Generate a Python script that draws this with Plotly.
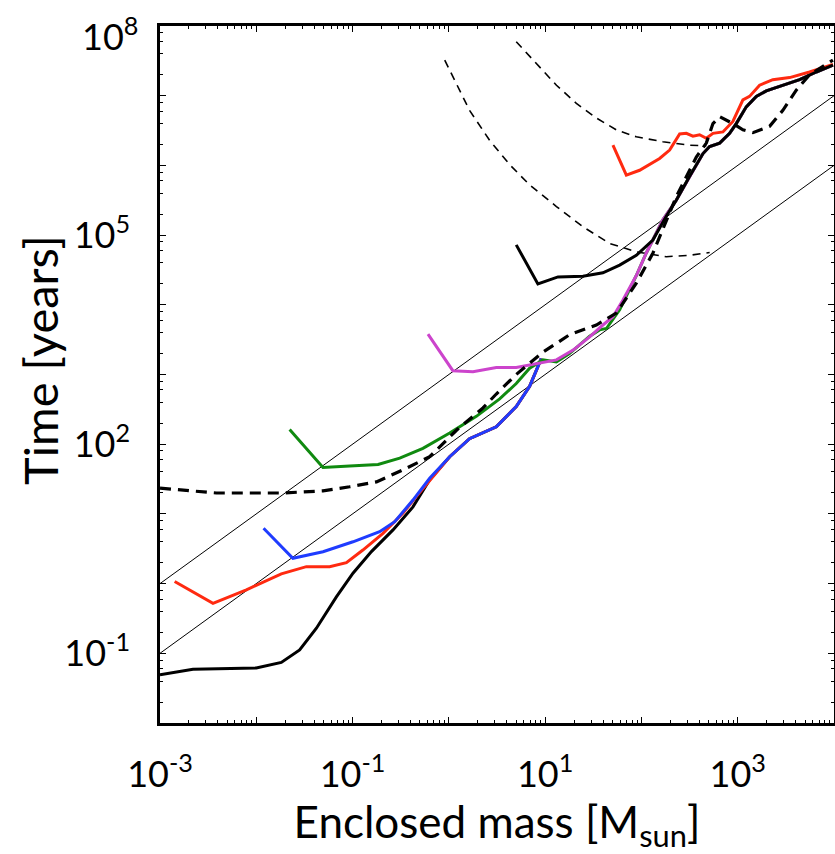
import plotly.graph_objects as go

# ---------------- data ----------------
# thin reference lines t = 1e3 M and t = 1e2 M (end points)
line_hi_m = [1e-3, 1e4]
line_hi_t = [1.0, 1e7]
line_lo_m = [1e-3, 1e4]
line_lo_t = [0.1, 1e6]

# shared high-mass path of the late snapshots
bundle_m = [13.1, 19.5, 29.0, 39.8, 50.6, 64.3, 88.5, 112, 167, 230, 316, 436, 511, 649,
            824, 966, 1227, 1560, 1982, 2944, 4395, 6546, 9750]
bundle_t = [1622, 2239, 3467, 5129, 6761, 11750, 26300, 54950, 1.66e5, 3.162e5, 6.918e5,
            1.479e6, 1.862e6, 2.089e6, 2.884e6, 3.981e6, 6.918e6, 9.772e6, 1.175e7,
            1.413e7, 1.698e7, 2.188e7, 2.754e7]

black_lo_m = [0.001, 0.0022, 0.01, 0.0182, 0.0282, 0.0421, 0.0679, 0.101, 0.157, 0.263,
              0.424, 0.632, 1.02, 1.64, 3.11, 5.01, 6.90, 8.11, 9.12]
black_lo_t = [0.049, 0.0589, 0.0617, 0.0741, 0.112, 0.229, 0.646, 1.41, 2.88, 5.89,
              12.6, 30.9, 66.1, 120, 178, 347, 676, 1148, 1698]

red_lo_m = [0.00142, 0.00355, 0.00789, 0.0182, 0.0331, 0.0578, 0.0863, 0.128, 0.207, 0.333,
            0.459, 0.658, 1.02, 1.64, 3.11, 5.01, 6.90, 8.11, 9.12]
red_lo_t = [1.07, 0.521, 0.813, 1.38, 1.75, 1.75, 2.0, 3.03, 5.25, 10.2,
            17.7, 32.4, 66.1, 120, 178, 347, 676, 1148, 1698]

blue_m = [0.0119, 0.0240, 0.0493, 0.101, 0.191, 0.274, 0.424, 0.632, 1.02, 1.64, 3.11,
          5.01, 6.90, 8.11, 9.12]
blue_t = [6.21, 2.31, 2.87, 3.98, 5.56, 7.73, 15.8, 32.4, 66.1, 120, 178,
          347, 676, 1148, 1698]

green_m = [0.0222, 0.0493, 0.0933, 0.184, 0.309, 0.538, 1.02, 1.93, 3.37, 5.01, 6.90, 9.48,
           13.1, 17.9, 29.0, 36.8, 43.3, 59.4]
green_t = [162, 46.5, 48.6, 51.3, 63.1, 87.1, 145, 251, 447, 741, 1230, 1622,
           1514, 1995, 3548, 4365, 4571, 8511]

magenta_m = [0.607, 1.10, 1.78, 3.11, 5.01, 8.11]
magenta_t = [3802, 1135, 1096, 1259, 1259, 1445]

black_hook_m = [5.01, 8.41, 13.6, 24.7, 39.8, 59.4, 88.5, 131.5, 181]
black_hook_t = [72440, 19950, 25120, 25700, 28840, 37150, 51290, 85110, 1.86e5]

red_hi_m = [50.6, 69.7, 95.7, 154.5, 196.3, 249.5, 292.4, 342.8, 401.8, 472.1, 553.4, 701.5,
            891.3, 1132, 1327, 1687, 2317, 3459, 5572, 9750]
red_hi_t = [1.95e6, 7.24e5, 8.51e5, 1.259e6, 1.66e6, 2.818e6, 2.884e6, 2.63e6, 2.754e6,
            2.455e6, 2.884e6, 3.02e6, 4.266e6, 8.71e6, 9.772e6, 1.413e7, 1.698e7, 1.82e7,
            2.188e7, 2.818e7]

dash_thick_m = [0.001, 0.00385, 0.0189, 0.0493, 0.0933, 0.177, 0.333, 0.632, 1.20, 2.26, 3.11,
                5.01, 9.48, 17.9, 34.0, 54.8, 88.5, 131.5, 230, 371.5, 472, 553, 649, 891,
                1132, 1439, 2143, 2944, 4055, 5572, 9750]
dash_thick_t = [23.4, 19.95, 19.95, 21.4, 24.5, 28.8, 42.7, 66.1, 158.5, 331, 525,
                1000, 2089, 3715, 5129, 7586, 20420, 54950, 3.548e5, 1.318e6, 2.089e6,
                3.981e6, 5.012e6, 3.981e6, 3.236e6, 2.951e6, 3.631e6, 6.166e6, 1.202e7,
                1.995e7, 3.236e7]

dash_top_m = [5.01, 8.11, 13.1, 21.1, 34.0, 54.8, 88.5, 167, 316, 472]
dash_top_t = [5.96e7, 2.884e7, 1.413e7, 7.762e6, 4.786e6, 3.236e6, 2.57e6, 2.188e6,
              1.95e6, 1.905e6]

dash_mid_m = [0.906, 1.64, 2.65, 4.29, 6.90, 13.1, 24.7, 46.8, 88.5, 181, 316, 511]
dash_mid_t = [3.236e7, 6.166e6, 2.291e6, 1.023e6, 5.248e5, 2.57e5, 1.318e5, 7.586e4,
              5.754e4, 4.898e4, 5.129e4, 5.623e4]

x_label_exps = [-3, -1, 1, 3]
y_label_exps = [5, 2, -1]      # labelled on the axis
y_top_label_exp = 8            # top label, set slightly lower like the reference

# ---------------- figure ----------------
RED = "#ff2a10"
BLUE = "#1f3cff"
GREEN = "#108a10"
MAGENTA = "#cc44cc"

fig = go.Figure()

def add(x, y, color, width, dash="solid"):
    fig.add_trace(go.Scatter(x=x, y=y, mode="lines", showlegend=False, hoverinfo="skip",
                             line=dict(color=color, width=width, dash=dash)))

add(line_hi_m, line_hi_t, "black", 1)
add(line_lo_m, line_lo_t, "black", 1)
add(dash_top_m, dash_top_t, "black", 1.6, "8px,6px")
add(dash_mid_m, dash_mid_t, "black", 1.6, "8px,6px")
add(black_lo_m, black_lo_t, "black", 3)
add(red_lo_m, red_lo_t, RED, 3)
add(blue_m, blue_t, BLUE, 3)
add(green_m + bundle_m[bundle_m.index(88.5):], green_t + bundle_t[bundle_m.index(88.5):], GREEN, 3)
add(magenta_m + bundle_m, magenta_t + bundle_t, MAGENTA, 3)
add(red_hi_m, red_hi_t, RED, 3)
add(black_hook_m + bundle_m[bundle_m.index(230):], black_hook_t + bundle_t[bundle_m.index(230):], "black", 3)
add(dash_thick_m, dash_thick_t, "black", 3.2, "11px,7px")

FONT = "Lato, 'Open Sans', sans-serif"

def decade_text(e, labeled):
    return f"10<sup>{e}</sup>" if e in labeled else ""

x_major = list(range(-3, 5))
y_major = list(range(-2, 9))
x_minor = [k * 10.0 ** e for e in range(-3, 4) for k in range(2, 10)]
y_minor = [k * 10.0 ** e for e in range(-2, 8) for k in (2, 4, 6, 8)]

fig.update_xaxes(
    type="log", range=[-3, 4],
    tickvals=[10.0 ** e for e in x_major],
    ticktext=[decade_text(e, x_label_exps) for e in x_major],
    ticks="inside", ticklen=6, tickwidth=1.2, tickcolor="black",
    minor=dict(tickvals=x_minor, ticks="inside", ticklen=3, tickwidth=1, tickcolor="black"),
    showline=True, linewidth=2.5, linecolor="black", mirror="allticks",
    showgrid=False, zeroline=False,
    tickfont=dict(family=FONT, size=36, color="black"),
    ticklabelstandoff=18, ticklabeloverflow="allow",
    title=dict(text="Enclosed mass [M<sub>sun</sub>]", font=dict(family=FONT, size=44, color="black"),
               standoff=8),
    automargin=False,
)
fig.update_yaxes(
    type="log", range=[-2, 8],
    tickvals=[10.0 ** e for e in y_major],
    ticktext=[decade_text(e, y_label_exps) for e in y_major],
    ticks="inside", ticklen=6, tickwidth=1.2, tickcolor="black",
    minor=dict(tickvals=y_minor, ticks="inside", ticklen=3, tickwidth=1, tickcolor="black"),
    showline=True, linewidth=2.5, linecolor="black", mirror="allticks",
    showgrid=False, zeroline=False,
    tickfont=dict(family=FONT, size=36, color="black"),
    ticklabelstandoff=20, ticklabeloverflow="allow",
    automargin=False,
)

# top y label (10^8), placed a little below the tick as in the reference
fig.add_annotation(
    text=f"10<sup>{y_top_label_exp}</sup>", showarrow=False,
    xref="paper", yref="paper", x=-0.03, y=0.988, xanchor="right", yanchor="middle",
    font=dict(family=FONT, size=36, color="black"),
)

fig.add_annotation(
    text="Time [years]", textangle=-90, showarrow=False,
    xref="paper", yref="paper", x=-0.178, y=0.521, xanchor="center", yanchor="middle",
    font=dict(family=FONT, size=47, color="black"),
)

fig.update_layout(
    width=835, height=854,
    margin=dict(l=160, r=1, t=26, b=131),
    paper_bgcolor="white", plot_bgcolor="white",
    showlegend=False,
)

fig.write_html("out.html")
